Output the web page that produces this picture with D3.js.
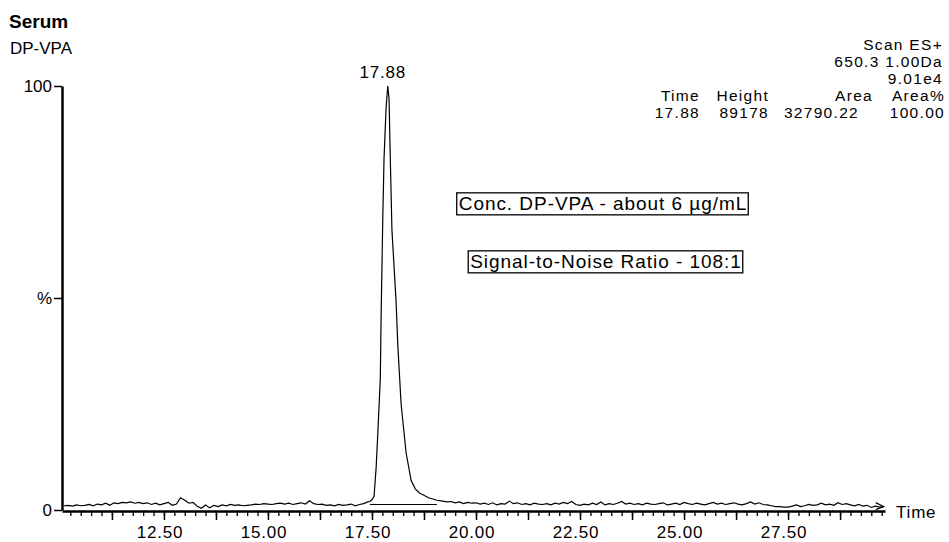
<!DOCTYPE html>
<html>
<head>
<meta charset="utf-8">
<script src="https://cdn.jsdelivr.net/npm/d3@7"></script>
<style>
  body { margin: 0; background: #fff; }
  svg text { font-family: "Liberation Sans", Arial, sans-serif; fill: #000; }
</style>
</head>
<body>
<svg id="chart" width="949" height="542"></svg>
<script>
// trace before the peak (time min, % of max)
const noiseBefore = [
  [10.1,1.0],[10.2,1.1],[10.3,0.9],[10.4,1.2],[10.5,1.0],[10.6,1.1],[10.7,1.3],[10.8,1.0],[10.9,1.4],[11.0,1.2],
  [11.1,1.6],[11.2,1.1],[11.3,1.7],[11.4,1.5],[11.5,1.8],[11.6,1.7],[11.7,1.9],[11.8,1.6],[11.9,1.8],[12.0,1.5],
  [12.1,1.7],[12.2,1.3],[12.3,1.6],[12.4,1.2],[12.5,1.5],[12.6,1.8],[12.7,1.1],[12.8,1.4],[12.9,2.9],[13.0,2.3],
  [13.1,1.6],[13.2,1.8],[13.3,0.9],[13.4,0.4],[13.5,1.2],[13.6,0.5],[13.7,1.1],[13.8,0.8],[13.9,1.2],[14.0,1.0],
  [14.1,1.3],[14.2,1.1],[14.3,1.2],[14.4,1.0],[14.5,1.1],[14.6,1.2],[14.7,1.4],[14.8,1.3],[14.9,1.5],[15.0,1.4],
  [15.1,1.3],[15.2,1.5],[15.3,1.6],[15.4,1.4],[15.5,1.6],[15.6,1.3],[15.7,1.5],[15.8,1.7],[15.9,1.4],[16.0,2.2],
  [16.1,1.5],[16.2,1.3],[16.3,1.4],[16.4,1.1],[16.5,1.2],[16.6,1.0],[16.7,1.3],[16.8,1.1],[16.9,1.2],[17.0,1.4],
  [17.1,1.0],[17.2,1.3],[17.3,1.5],[17.4,1.9]
];

// the DP-VPA peak
const peak = [
  [17.45,2.0],[17.50,2.4],[17.55,3.2],[17.60,10],[17.64,18],[17.70,31],[17.72,46],[17.76,69],[17.79,83],
  [17.84,95],[17.88,100],[17.91,97],[17.94,83],[17.98,66],[18.08,49],[18.12,39],[18.20,25],[18.32,13.5],
  [18.44,7],[18.54,5],[18.64,4],[18.76,3.4],[18.86,2.9],[18.96,2.6],[19.06,2.3]
];

// trace after the peak
const noiseAfter = [
  [19.2,2.1],[19.3,1.9],[19.4,2.0],[19.5,1.7],[19.6,1.9],[19.7,1.5],[19.8,1.8],[19.9,1.6],[20.0,1.7],[20.1,1.4],
  [20.2,1.6],[20.3,1.3],[20.4,1.7],[20.5,1.2],[20.6,1.5],[20.7,1.4],[20.8,2.1],[20.9,1.5],[21.0,1.7],[21.1,1.3],
  [21.2,1.5],[21.3,1.2],[21.4,1.6],[21.5,1.4],[21.6,1.3],[21.7,1.5],[21.8,1.2],[21.9,1.6],[22.0,1.4],[22.1,1.8],
  [22.2,1.5],[22.3,2.0],[22.4,1.3],[22.5,1.1],[22.6,1.4],[22.7,1.2],[22.8,1.6],[22.9,1.3],[23.0,1.9],[23.1,1.2],
  [23.2,1.5],[23.3,1.3],[23.4,1.6],[23.5,2.0],[23.6,1.4],[23.7,1.6],[23.8,1.3],[23.9,1.5],[24.0,1.2],[24.1,1.6],
  [24.2,1.4],[24.3,1.3],[24.4,1.5],[24.5,1.7],[24.6,1.2],[24.7,1.4],[24.8,1.6],[24.9,1.3],[25.0,1.8],[25.1,1.5],
  [25.2,1.3],[25.3,1.6],[25.4,1.4],[25.5,1.2],[25.6,1.5],[25.7,1.8],[25.8,1.4],[25.9,1.6],[26.0,1.3],[26.1,1.5],
  [26.2,1.7],[26.3,1.4],[26.4,1.2],[26.5,1.5],[26.6,1.9],[26.7,1.4],[26.8,1.7],[26.9,1.3],[27.0,1.2],[27.1,1.0],
  [27.2,0.8],[27.3,0.8],[27.4,0.7],[27.5,0.7],[27.6,0.9],[27.7,1.2],[27.8,0.8],[27.9,1.0],[28.0,1.3],[28.1,1.1],
  [28.2,1.2],[28.3,1.6],[28.4,1.2],[28.5,1.4],[28.6,1.1],[28.7,1.7],[28.8,1.3],[28.9,1.5],[29.0,1.2],[29.1,1.0],
  [29.2,1.3],[29.3,0.9],[29.4,1.1],[29.5,0.6],[29.6,0.9],[29.7,0.7],[29.8,0.8]
];

// integration baseline under the peak
const integrationBase = [[17.45,1.3],[19.06,1.3]];

const xTickValues = [12.5, 15, 17.5, 20, 22.5, 25, 27.5];
const xTickLabels = ["12.50", "15.00", "17.50", "20.00", "22.50", "25.00", "27.50"];
const yTickValues = [0, 50, 100];
const yTickLabels = ["0", "%", "100"];

const headerLines = ["Scan ES+", "650.3 1.00Da", "9.01e4"];
const peakTableHead = ["Time", "Height", "Area", "Area%"];
const peakTableRow = ["17.88", "89178", "32790.22", "100.00"];
const apex = { time: 17.88, label: "17.88" };
const notes = ["Conc. DP-VPA - about 6 \u00b5g/mL", "Signal-to-Noise Ratio - 108:1"];

const svg = d3.select("#chart");

const x = d3.scaleLinear().domain([10.05, 29.83]).range([62, 885]);
const y = d3.scaleLinear().domain([0, 100]).range([510, 86]);

// titles
svg.append("text").attr("x", 9).attr("y", 28)
  .style("font-size", "19px").style("font-weight", "bold").text("Serum");
svg.append("text").attr("x", 10).attr("y", 54)
  .style("font-size", "17px").text("DP-VPA");

// x axis: minor ticks every 0.25, longer every 1.25
const minorTicks = d3.range(10.25, 29.8, 0.25);
const longTicks = d3.range(11.25, 29.8, 1.25);

svg.append("g")
  .attr("transform", "translate(0,511)")
  .call(d3.axisBottom(x).tickValues(minorTicks).tickSize(5).tickSizeOuter(0).tickFormat(""))
  .call(g => g.select(".domain").attr("stroke-width", 2.5))
  .call(g => g.selectAll(".tick line").attr("stroke-width", 1.3));

svg.append("g")
  .attr("transform", "translate(0,511)")
  .call(d3.axisBottom(x).tickValues(longTicks).tickSize(9).tickFormat(""))
  .call(g => g.select(".domain").remove())
  .call(g => g.selectAll(".tick line").attr("stroke-width", 1.5));

svg.append("g")
  .selectAll("text")
  .data(xTickValues)
  .join("text")
  .attr("x", d => x(d) - 4)
  .attr("y", 538)
  .attr("text-anchor", "middle")
  .style("font-size", "17px")
  .style("letter-spacing", "0.8px")
  .text((d, i) => xTickLabels[i]);

svg.append("text").attr("x", 896).attr("y", 518)
  .style("font-size", "17px").style("letter-spacing", "0.8px").text("Time");

// y axis
svg.append("g")
  .attr("transform", "translate(62,0)")
  .call(d3.axisLeft(y).tickValues(yTickValues).tickSize(8).tickSizeOuter(0)
    .tickFormat((d, i) => yTickLabels[i]))
  .call(g => g.select(".domain").attr("stroke-width", 2.5))
  .call(g => g.selectAll(".tick line").attr("stroke-width", 1.5))
  .call(g => g.selectAll(".tick text")
    .style("font-size", "17px").style("font-family", "Liberation Sans, Arial, sans-serif")
    .attr("x", -10).attr("dy", "0.35em"));

// trace
const line = d3.line().x(d => x(d[0])).y(d => y(d[1]));
const trace = noiseBefore.concat(peak, noiseAfter);

svg.append("path")
  .datum(trace)
  .attr("fill", "none")
  .attr("stroke", "#000")
  .attr("stroke-width", 1.2)
  .attr("d", line);

svg.append("path")
  .datum(integrationBase)
  .attr("fill", "none")
  .attr("stroke", "#000")
  .attr("stroke-width", 1.2)
  .attr("d", line);

// small arrow at the end of the trace
const last = trace[trace.length - 1];
svg.append("path")
  .attr("fill", "none")
  .attr("stroke", "#000")
  .attr("stroke-width", 1.2)
  .attr("d", `M${x(last[0]) - 8},${y(last[1]) - 4} L${x(last[0])},${y(last[1])} L${x(last[0]) - 8},${y(last[1]) + 3}`);

// apex label
svg.append("text")
  .attr("x", x(apex.time) - 5)
  .attr("y", y(100) - 8)
  .attr("text-anchor", "middle")
  .style("font-size", "17px")
  .style("letter-spacing", "0.8px")
  .text(apex.label);

// header block, top right
svg.append("g")
  .selectAll("text")
  .data(headerLines)
  .join("text")
  .attr("x", 943)
  .attr("y", (d, i) => 50 + i * 17)
  .attr("text-anchor", "end")
  .style("font-size", "15.5px")
  .style("letter-spacing", "1.3px")
  .text(d => d);

const colRight = [700, 769, 873, 945];
[peakTableHead, peakTableRow].forEach((row, r) => {
  svg.append("g")
    .selectAll("text")
    .data(row)
    .join("text")
    .attr("x", (d, i) => colRight[i] - (r === 1 && i === 2 ? 14 : 0))
    .attr("y", 101 + r * 17)
    .attr("text-anchor", "end")
    .style("font-size", "15.5px")
    .style("letter-spacing", "1.3px")
    .text(d => d);
});

// boxed notes
const noteCenters = [[603, 203], [606, 261]];
notes.forEach((t, i) => {
  const g = svg.append("g");
  const txt = g.append("text")
    .attr("x", noteCenters[i][0])
    .attr("y", noteCenters[i][1])
    .attr("dy", "0.36em")
    .attr("text-anchor", "middle")
    .style("font-size", "19px")
    .style("letter-spacing", "0.95px")
    .text(t);
  const b = txt.node().getBBox();
  g.insert("rect", "text")
    .attr("x", b.x - 2).attr("y", b.y)
    .attr("width", b.width + 3).attr("height", b.height + 1)
    .attr("fill", "#fff").attr("stroke", "#000").attr("stroke-width", 1.3);
});
</script>
</body>
</html>
